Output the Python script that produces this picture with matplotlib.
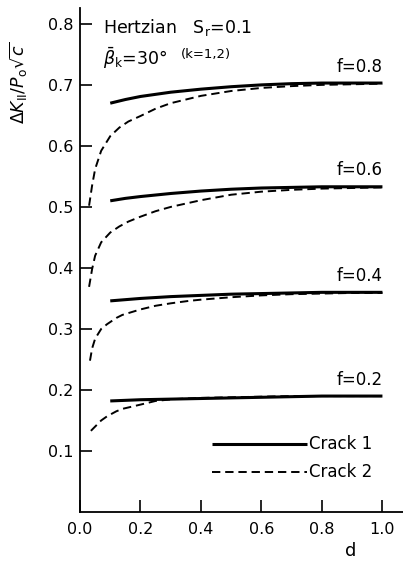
import matplotlib
matplotlib.use("Agg")
import matplotlib.pyplot as plt

plt.rcParams['font.family'] = ['DejaVu Sans']
plt.rcParams['mathtext.fontset'] = 'dejavusans'
plt.rcParams['lines.scale_dashes'] = False

# ---- data ----
x_solid = [0.1, 0.15, 0.2, 0.3, 0.4, 0.5, 0.6, 0.7, 0.8, 0.9, 1.0]
crack1_f08 = [0.670, 0.676, 0.681, 0.688, 0.693, 0.697, 0.700, 0.702, 0.703, 0.703, 0.703]
crack1_f06 = [0.510, 0.514, 0.517, 0.522, 0.526, 0.529, 0.531, 0.532, 0.533, 0.533, 0.533]
crack1_f04 = [0.346, 0.348, 0.350, 0.353, 0.355, 0.357, 0.358, 0.359, 0.360, 0.360, 0.360]
crack1_f02 = [0.182, 0.183, 0.184, 0.185, 0.186, 0.187, 0.188, 0.189, 0.190, 0.190, 0.190]

x_c2_f08 = [0.03, 0.04, 0.05, 0.07, 0.1, 0.13, 0.16, 0.2, 0.25, 0.3, 0.4, 0.5, 0.6, 0.7, 0.8, 0.9, 1.0]
crack2_f08 = [0.502, 0.535, 0.562, 0.592, 0.616, 0.630, 0.640, 0.649, 0.661, 0.670, 0.682, 0.690, 0.695, 0.698, 0.700, 0.701, 0.702]
x_c2_f06 = [0.03, 0.04, 0.05, 0.07, 0.1, 0.13, 0.16, 0.2, 0.25, 0.3, 0.4, 0.5, 0.6, 0.7, 0.8, 0.9, 1.0]
crack2_f06 = [0.369, 0.398, 0.420, 0.442, 0.458, 0.468, 0.476, 0.484, 0.493, 0.500, 0.511, 0.520, 0.525, 0.528, 0.530, 0.531, 0.532]
x_c2_f04 = [0.033, 0.04, 0.05, 0.07, 0.09, 0.12, 0.14, 0.2, 0.25, 0.3, 0.36, 0.4, 0.5, 0.6, 0.7, 0.8, 0.9, 1.0]
crack2_f04 = [0.248, 0.268, 0.284, 0.300, 0.308, 0.318, 0.323, 0.332, 0.338, 0.342, 0.346, 0.348, 0.352, 0.355, 0.357, 0.358, 0.359, 0.359]
x_c2_f02 = [0.036, 0.05, 0.07, 0.09, 0.12, 0.14, 0.2, 0.25, 0.31, 0.4, 0.5, 0.6, 0.7, 0.8, 0.9, 1.0]
crack2_f02 = [0.133, 0.140, 0.150, 0.157, 0.165, 0.169, 0.176, 0.182, 0.185, 0.187, 0.188, 0.189, 0.190, 0.190, 0.190, 0.190]

f_labels = ["f=0.8", "f=0.6", "f=0.4", "f=0.2"]
x_ticks = [0.0, 0.2, 0.4, 0.6, 0.8, 1.0]
x_ticklabels = ["0.0", "0.2", "0.4", "0.6", "0.8", "1.0"]
y_ticks = [0.1, 0.2, 0.3, 0.4, 0.5, 0.6, 0.7, 0.8]
y_ticklabels = ["0.1", "0.2", "0.3", "0.4", "0.5", "0.6", "0.7", "0.8"]

fig = plt.figure(figsize=(4.03, 5.63), dpi=100)
ax = fig.add_axes([80 / 403, 1 - 512 / 563, 1 - 80 / 403, (512 - 8) / 563])

solid_kw = dict(color='black', lw=2.2, solid_capstyle='butt')
dash_kw = dict(color='black', lw=1.4, dashes=(6, 3.5))

for yv in (crack1_f08, crack1_f06, crack1_f04, crack1_f02):
    ax.plot(x_solid, yv, **solid_kw)
for xv, yv in ((x_c2_f08, crack2_f08), (x_c2_f06, crack2_f06),
               (x_c2_f04, crack2_f04), (x_c2_f02, crack2_f02)):
    ax.plot(xv, yv, **dash_kw)

ax.set_xlim(0, 1.068)
ax.set_ylim(0, 0.826)
ax.set_xticks(x_ticks)
ax.set_xticklabels(x_ticklabels)
ax.set_yticks(y_ticks)
ax.set_yticklabels(y_ticklabels)
ax.tick_params(direction='in', length=8.5, width=1.2, labelsize=11.5, pad=5)
ax.tick_params(axis='x', pad=7)
for s in ('top', 'right'):
    ax.spines[s].set_visible(False)
for s in ('left', 'bottom'):
    ax.spines[s].set_linewidth(1.3)

# f labels
for lab, yv in zip(f_labels, (crack1_f08, crack1_f06, crack1_f04, crack1_f02)):
    ax.text(1.0, yv[-1] + 0.012, lab, ha='right', va='bottom', fontsize=12)

# annotations
ax.text(0.075, 0.812, "Hertzian   S$_{\\rm r}$=0.1", ha='left', va='top', fontsize=12.5)
ax.text(0.075, 0.765, r"$\bar{\beta}_{\rm k}$=30°", ha='left', va='top', fontsize=12.5)
ax.text(0.335, 0.760, "(k=1,2)", ha='left', va='top', fontsize=9.5)

# legend drawn as lines + text
ax.plot([0.438, 0.752], [0.112, 0.112], **solid_kw)
ax.plot([0.438, 0.752], [0.066, 0.066], **dash_kw)
ax.text(0.757, 0.112, "Crack 1", ha='left', va='center', fontsize=12)
ax.text(0.757, 0.066, "Crack 2", ha='left', va='center', fontsize=12)

# axis labels
ax.text(0.895, -0.064, "d", ha='center', va='center', fontsize=13)
fig.text(19 / 403, 1 - 83 / 563, r"$\Delta K_{\rm II}/P_{\rm o}\sqrt{c}$",
         rotation=90, ha='center', va='center', fontsize=12.5)

fig.savefig("out.png", dpi=100)
